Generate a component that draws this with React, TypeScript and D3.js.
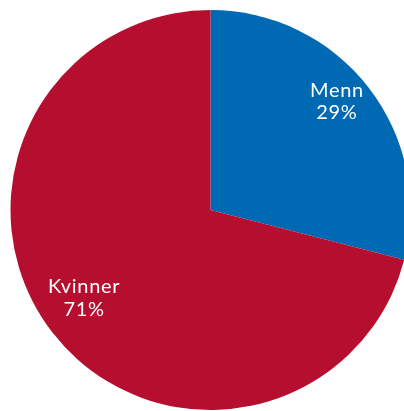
import React from "react";
import * as d3 from "d3";

const categories = ["Menn", "Kvinner"];
const values = [29, 71];
const labels = ["29%", "71%"];
const colors = ["#0069B4", "#B50E2F"];

export default function App() {
  const width = 404;
  const height = 411;
  const cx = 210.5;
  const cy = 210;
  const radius = 200;

  const pie = d3.pie<number>().sort(null).value((d) => d);
  const arcs = pie(values);
  const arc = d3.arc<d3.PieArcDatum<number>>().innerRadius(0).outerRadius(radius);
  const labelArc = d3.arc<d3.PieArcDatum<number>>().innerRadius(160).outerRadius(160);

  const textProps = {
    textAnchor: "middle" as const,
    fill: "#ffffff",
    fontFamily: "Lato, 'Noto Sans', sans-serif",
    fontSize: 20,
    letterSpacing: 0.7,
  };

  return (
    <div style={{ position: "fixed", left: 0, top: 0 }}>
      <svg width={width} height={height} style={{ display: "block" }}>
        <g transform={`translate(${cx},${cy})`}>
          {arcs.map((a, i) => (
            <path key={categories[i]} d={arc(a) || ""} fill={colors[i]} />
          ))}
          {arcs.map((a, i) => {
            const [x, y] = labelArc.centroid(a);
            return (
              <g key={"t" + i}>
                <text x={x} y={y - 15} {...textProps}>{categories[i]}</text>
                <text x={x} y={y + 7.5} {...textProps}>{labels[i]}</text>
              </g>
            );
          })}
        </g>
      </svg>
    </div>
  );
}
